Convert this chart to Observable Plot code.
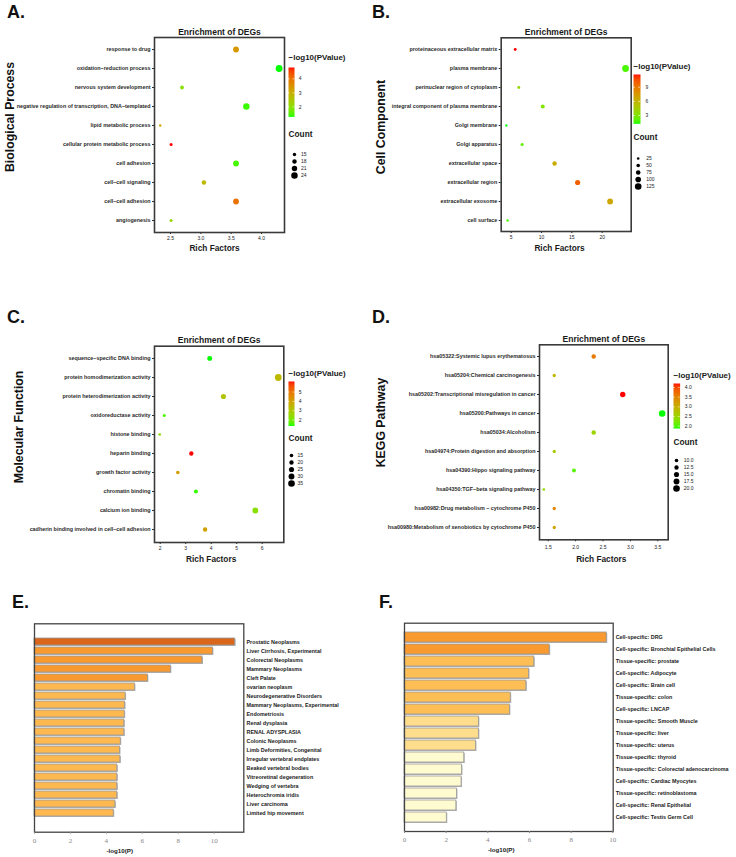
<!DOCTYPE html>
<html><head><meta charset="utf-8">
<script src="https://cdn.jsdelivr.net/npm/d3@7"></script>
<script src="https://cdn.jsdelivr.net/npm/@observablehq/plot@0.6"></script>
<style>
html,body{margin:0;padding:0;background:#fff;}
#root{position:relative;width:736px;height:857px;overflow:hidden;background:#fff;font-family:"Liberation Sans",Arial,sans-serif;}
</style></head><body><div id="root"></div>
<script>
// ---------------- DATA ----------------
const bpTerms = ["response to drug","oxidation−reduction process","nervous system development","negative regulation of transcription, DNA−templated","lipid metabolic process","cellular protein metabolic process","cell adhesion","cell−cell signaling","cell−cell adhesion","angiogenesis"];
const bpRich  = [3.58, 4.29, 2.69, 3.75, 2.33, 2.51, 3.58, 3.05, 3.58, 2.51];
const bpCount = [22, 25, 16, 24, 12, 14, 22, 18, 22, 14];
const bpLogP  = [3.4, 1.29, 2.0, 1.4, 3.1, 4.81, 1.45, 2.8, 4.0, 2.2];
const bpSizeBreaks = [15, 18, 21, 24];
const bpColorTicks = [2, 3, 4];

const ccTerms = ["proteinaceous extracellular matrix","plasma membrane","perinuclear region of cytoplasm","integral component of plasma membrane","Golgi membrane","Golgi apparatus","extracellular space","extracellular region","extracellular exosome","cell surface"];
const ccRich  = [5.66, 23.85, 6.25, 10.2, 4.2, 6.8, 12.15, 15.95, 21.3, 4.4];
const ccCount = [32, 130, 32, 60, 18, 40, 70, 90, 105, 20];
const ccLogP  = [11.7, 1.8, 3.8, 3.0, 1.25, 2.2, 6.5, 10.0, 6.8, 1.8];
const ccSizeBreaks = [25, 50, 75, 100, 125];
const ccColorTicks = [3, 6, 9];

const mfTerms = ["sequence−specific DNA binding","protein homodimerization activity","protein heterodimerization activity","oxidoreductase activity","histone binding","heparin binding","growth factor activity","chromatin binding","calcium ion binding","cadherin binding involved in cell−cell adhesion"];
const mfRich  = [3.94, 6.63, 4.48, 2.16, 1.98, 3.22, 2.69, 3.4, 5.73, 3.76];
const mfCount = [24, 36, 25, 11, 9, 20, 15, 18, 30, 20];
const mfLogP  = [1.36, 3.4, 3.1, 1.6, 2.4, 6.13, 4.1, 1.5, 2.3, 4.0];
const mfSizeBreaks = [15, 20, 25, 30, 35];
const mfColorTicks = [2, 3, 4, 5];

const keggTerms = ["hsa05322:Systemic lupus erythematosus","hsa05204:Chemical carcinogenesis","hsa05202:Transcriptional misregulation in cancer","hsa05200:Pathways in cancer","hsa05034:Alcoholism","hsa04974:Protein digestion and absorption","hsa04390:Hippo signaling pathway","hsa04350:TGF−beta signaling pathway","hsa00982:Drug metabolism − cytochrome P450","hsa00980:Metabolism of xenobiotics by cytochrome P450"];
const keggRich  = [2.33, 1.61, 2.86, 3.58, 2.33, 1.61, 1.97, 1.42, 1.61, 1.61];
const keggCount = [13, 9, 16, 20, 13, 9, 11, 7, 9, 9];
const keggLogP  = [3.6, 2.9, 4.21, 1.88, 2.5, 2.6, 2.05, 2.4, 3.5, 3.15];
const keggSizeBreaks = [10, 12.5, 15, 17.5, 20];
const keggColorTicks = [2, 2.5, 3, 3.5, 4];

const diseaseTerms = ["Prostatic Neoplasms","Liver Cirrhosis, Experimental","Colorectal Neoplasms","Mammary Neoplasms","Cleft Palate","ovarian neoplasm","Neurodegenerative Disorders","Mammary Neoplasms, Experimental","Endometriosis","Renal dysplasia","RENAL ADYSPLASIA","Colonic Neoplasms","Limb Deformities, Congenital","Irregular vertebral endplates","Beaked vertebral bodies","Vitreoretinal degeneration","Wedging of vertebra","Heterochromia iridis","Liver carcinoma","Limited hip movement"];
const diseaseLogP = [11.17, 9.93, 9.35, 7.59, 6.31, 5.59, 5.07, 5.04, 5.02, 5.0, 5.0, 4.80, 4.76, 4.78, 4.61, 4.61, 4.61, 4.61, 4.5, 4.41];

const tissueTerms = ["Cell-specific: DRG","Cell-specific: Bronchial Epithelial Cells","Tissue-specific: prostate","Cell-specific: Adipocyte","Cell-specific: Brain cell","Tissue-specific: colon","Cell-specific: LNCAP","Tissue-specific: Smooth Muscle","Tissue-specific: liver","Tissue-specific: uterus","Tissue-specific: thyroid","Tissue-specific: Colorectal adenocarcinoma","Cell-specific: Cardiac Myocytes","Tissue-specific: retinoblastoma","Cell-specific: Renal Epithelial","Cell-specific: Testis Germ Cell"];
const tissueLogP = [9.71, 6.97, 6.23, 5.98, 5.85, 5.1, 5.06, 3.57, 3.57, 3.43, 2.87, 2.76, 2.74, 2.52, 2.49, 2.03];

const barTicks = [0, 2, 4, 6, 8, 10];
const panelLetters = ["A.", "B.", "C.", "D.", "E.", "F."];
const sideTitles = ["Biological Process", "Cell Component", "Molecular Function", "KEGG Pathway"];

// ---------------- HELPERS ----------------
const FONT = '"Liberation Sans", Arial, sans-serif';
const root = document.getElementById("root");
function place(el, left, top) {
  el.style.position = "absolute";
  el.style.left = left + "px";
  el.style.top = top + "px";
  el.style.overflow = "visible";
  el.style.background = "transparent";
  root.appendChild(el);
}
const gradient = {type: "linear", range: ["#00ff00", "#ff0000"], interpolate: d3.interpolateLab};

function dotPanel(p) {
  const rows = p.cats.map((cat, i) => ({cat, rich: p.rich[i], count: p.count[i], logp: p.logp[i]}));
  const svg = Plot.plot({
    width: p.w, height: p.h,
    marginLeft: p.m[0], marginRight: p.m[1], marginTop: p.m[2], marginBottom: p.m[3],
    style: {fontFamily: FONT, background: "transparent", overflow: "visible"},
    x: {domain: p.xDomain},
    y: {type: "point", domain: p.cats, padding: 0.58},
    r: {type: "linear", domain: p.rDomain, range: p.rRange},
    color: {...gradient, domain: p.cDomain},
    marks: [
      Plot.axisX(p.xTicks, {tickSize: 2, tickPadding: p.xPad, fontSize: 5, tickFormat: p.xFmt, label: null, color: "#222"}),
      Plot.axisY({tickSize: 2, tickPadding: 2, fontSize: 5.4, fontWeight: "bold", label: null, color: "#2a2a2a"}),
      Plot.dot(rows, {x: "rich", y: "cat", r: "count", fill: "logp"}),
      Plot.frame({stroke: "#3a3a3a", strokeWidth: 1.6}),
      Plot.text(["Enrichment of DEGs"], {text: d => d, frameAnchor: "top", lineAnchor: "middle", dy: p.titleDy, fontSize: 8.5, fontWeight: "bold", fill: "#1a1a1a"}),
      Plot.text(["Rich Factors"], {text: d => d, frameAnchor: "bottom", lineAnchor: "middle", dy: p.xlabDy, dx: p.xlabDx, fontSize: 8.3, fontWeight: "bold", fill: "#1a1a1a"})
    ]
  });
  place(svg, p.left, p.top);
}

function colorBar(p) {
  const mt = 16, W = 100;
  const svg = Plot.plot({
    width: W, height: p.barH + mt, marginTop: mt, marginBottom: 0, marginLeft: 0, marginRight: W - p.barW,
    style: {fontFamily: FONT, background: "transparent", overflow: "visible"},
    x: {domain: [0, 1], axis: null},
    y: {domain: p.cDomain, axis: null},
    color: {...gradient, domain: p.cDomain},
    marks: [
      Plot.raster({x1: 0, x2: 1, y1: p.cDomain[0], y2: p.cDomain[1], width: 1, height: 80, fill: (x, y) => y, imageRendering: "auto"}),
      Plot.tickY(p.ticks, {y: d => d, stroke: "white", strokeWidth: 0.6, insetRight: p.barW * 0.75}),
      Plot.tickY(p.ticks, {y: d => d, stroke: "white", strokeWidth: 0.6, insetLeft: p.barW * 0.75}),
      Plot.axisY(p.ticks, {anchor: "right", tickSize: 0, tickPadding: p.labPad, fontSize: 5, tickFormat: p.fmt, label: null, color: "#222"}),
      Plot.text(["−log10(PValue)"], {text: d => d, frameAnchor: "top-left", textAnchor: "start", lineAnchor: "middle", dy: -p.titleGap, fontSize: 8, fontWeight: "bold", fill: "#1a1a1a"})
    ]
  });
  place(svg, p.left, p.barTop - mt);
}

function sizeLegend(p) {
  const top = p.titleY - 8, W = 60;
  const svg = Plot.plot({
    width: W, height: p.itemBottom - top + 8, marginTop: 0, marginBottom: 0, marginLeft: 0, marginRight: 0,
    style: {fontFamily: FONT, background: "transparent", overflow: "visible"},
    x: {domain: [0, 1], range: [p.circleDx, W], axis: null},
    y: {type: "point", domain: p.breaks, range: [p.itemTop - top, p.itemBottom - top], axis: null},
    r: {type: "linear", domain: p.rDomain, range: p.rRange},
    marks: [
      Plot.dot(p.breaks, {x: () => 0, y: d => d, r: d => d, fill: "black"}),
      Plot.text(p.breaks, {x: () => 0, y: d => d, text: p.fmt, dx: p.labelDx, textAnchor: "start", fontSize: 5, fill: "#222"}),
      Plot.text(["Count"], {text: d => d, frameAnchor: "top-left", textAnchor: "start", lineAnchor: "middle", dy: 8, fontSize: 8.3, fontWeight: "bold", fill: "#1a1a1a"})
    ]
  });
  place(svg, p.left, top);
}

function barPanel(p) {
  const rows = p.cats.map((cat, i) => ({cat, v: p.vals[i]}));
  const svg = Plot.plot({
    width: p.w, height: p.h,
    marginLeft: p.m[0], marginRight: p.m[1], marginTop: p.m[2], marginBottom: p.m[3],
    style: {fontFamily: FONT, background: "transparent", overflow: "visible"},
    x: {domain: [0, p.xMax]},
    y: {type: "band", domain: p.cats, paddingInner: p.pi, paddingOuter: p.po},
    color: {type: "threshold", domain: p.thr, range: p.colors},
    marks: [
      Plot.barX(rows, {x: "v", y: "cat", fill: "#b4b4b4", dx: 1, dy: 1}),
      Plot.barX(rows, {x: "v", y: "cat", fill: "v", stroke: "#9a9a9a", strokeWidth: 0.8}),
      Plot.frame({stroke: "#444", strokeWidth: 1.3}),
      Plot.axisX(barTicks, {tickSize: 2, tickPadding: 4, fontSize: 7, fontFamily: '"Liberation Serif", "Times New Roman", serif', label: null, color: "#888"}),
      Plot.axisY({anchor: "right", tickSize: 0, tickPadding: p.labPad, fontSize: 5.4, fontWeight: "bold", label: null, color: "#1a1a1a"}),
      Plot.text(["-log10(P)"], {text: d => d, frameAnchor: "bottom", lineAnchor: "middle", dy: 19, dx: p.xlabDx, fontSize: 6.2, fontWeight: "bold", fill: "#1a1a1a"})
    ]
  });
  place(svg, p.left, p.top);
}

// ---------------- PANELS ----------------
const f1 = d3.format(".1f");
dotPanel({left: 0, top: 0, w: 370, h: 290, m: [154, 86, 37, 58], xDomain: [2.236, 4.379], xTicks: [2.5, 3, 3.5, 4], xFmt: f1, xPad: 2,
  cats: bpTerms, rich: bpRich, count: bpCount, logp: bpLogP, rDomain: [12, 25], rRange: [1.2, 3.4], cDomain: [1.29, 4.81],
  titleDy: -5, xlabDy: 16, xlabDx: -5});
colorBar({left: 288, barTop: 67.3, barH: 49.4, barW: 6, cDomain: [1.29, 4.81], ticks: bpColorTicks, fmt: d => d, labPad: 4.3, titleGap: 10});
sizeLegend({left: 288, titleY: 134, itemTop: 149, itemBottom: 180, breaks: bpSizeBreaks, rDomain: [12, 25], rRange: [1.2, 3.4], circleDx: 6, labelDx: 6.5, fmt: d => d});

dotPanel({left: 370, top: 0, w: 366, h: 290, m: [130.7, 105.3, 37.3, 59], xDomain: [3.35, 24.78], xTicks: [5, 10, 15, 20], xFmt: d => d, xPad: 2,
  cats: ccTerms, rich: ccRich, count: ccCount, logp: ccLogP, rDomain: [15, 135], rRange: [1.1, 3.5], cDomain: [1.25, 11.7],
  titleDy: -5.6, xlabDy: 17.3, xlabDx: -6.7});
colorBar({left: 633, barTop: 74, barH: 49.3, barW: 7, cDomain: [1.25, 11.7], ticks: ccColorTicks, fmt: d => d, labPad: 5, titleGap: 8.3});
sizeLegend({left: 633, titleY: 136.7, itemTop: 151.7, itemBottom: 191, breaks: ccSizeBreaks, rDomain: [15, 135], rRange: [1.1, 3.5], circleDx: 4.7, labelDx: 8, fmt: d => d});

dotPanel({left: 0, top: 300, w: 370, h: 290, m: [154, 86.7, 45.7, 48], xDomain: [1.776, 6.847], xTicks: [2, 3, 4, 5, 6], xFmt: d => d, xPad: 2,
  cats: mfTerms, rich: mfRich, count: mfCount, logp: mfLogP, rDomain: [8, 38], rRange: [1.28, 3.53], cDomain: [1.36, 6.13],
  titleDy: -6.4, xlabDy: 17.3, xlabDx: -8});
colorBar({left: 288, barTop: 380.5, barH: 44.5, barW: 6, cDomain: [1.36, 6.13], ticks: mfColorTicks, fmt: d => d, labPad: 4.3, titleGap: 8});
sizeLegend({left: 288, titleY: 437.7, itemTop: 450.7, itemBottom: 486.7, breaks: mfSizeBreaks, rDomain: [8, 38], rRange: [1.28, 3.53], circleDx: 3, labelDx: 6, fmt: d => d});

dotPanel({left: 370, top: 300, w: 366, h: 290, m: [169, 68.3, 44.3, 50.7], xDomain: [1.341, 3.69], xTicks: [1.5, 2, 2.5, 3, 3.5], xFmt: f1, xPad: 4,
  cats: keggTerms, rich: keggRich, count: keggCount, logp: keggLogP, rDomain: [6, 21], rRange: [1.2, 3.45], cDomain: [1.88, 4.21],
  titleDy: -6, xlabDy: 20, xlabDx: -2.6});
colorBar({left: 672.7, barTop: 383.3, barH: 45, barW: 6.6, cDomain: [1.88, 4.21], ticks: keggColorTicks, fmt: f1, labPad: 4.7, titleGap: 8.3});
sizeLegend({left: 672.7, titleY: 442.3, itemTop: 455.2, itemBottom: 492.5, breaks: keggSizeBreaks, rDomain: [6, 21], rRange: [1.2, 3.45], circleDx: 3, labelDx: 7.3, fmt: f1});

barPanel({left: 0, top: 600, w: 370, h: 257, m: [34, 126.7, 23.3, 25.3], xMax: 11.65, cats: diseaseTerms, vals: diseaseLogP,
  pi: 0.2, po: 0.54, thr: [6, 10], colors: ["#FDB94F", "#F89A30", "#D9661A"], labPad: 2.7, xlabDx: -19.4});
barPanel({left: 370, top: 600, w: 366, h: 257, m: [34, 123.3, 22.7, 26], xMax: 10.02, cats: tissueTerms, vals: tissueLogP,
  pi: 0.19, po: 0.57, thr: [3, 4, 6.5], colors: ["#FFFBD0", "#FEDD8C", "#FDBF55", "#F89A30"], labPad: 2.5, xlabDx: -7.6});

// ---------------- PANEL LETTERS & SIDE TITLES ----------------
const ov = d3.create("svg").attr("width", 736).attr("height", 857)
  .style("position", "absolute").style("left", "0px").style("top", "0px").style("pointer-events", "none")
  .style("font-family", FONT);
const letterPos = [[7, 18], [372, 18], [7, 323], [372, 323], [12, 608], [379, 608]];
panelLetters.forEach((t, i) => {
  ov.append("text").attr("x", letterPos[i][0]).attr("y", letterPos[i][1])
    .attr("font-size", 18).attr("font-weight", "bold").attr("fill", "#111").text(t);
});
const sidePos = [[9.5, 117], [381, 127], [19, 427], [381, 422.5]];
sideTitles.forEach((t, i) => {
  ov.append("text").attr("transform", `translate(${sidePos[i][0]},${sidePos[i][1]}) rotate(-90)`)
    .attr("text-anchor", "middle").attr("dominant-baseline", "central")
    .attr("font-size", 12.3).attr("font-weight", "bold").attr("fill", "#111").text(t);
});
root.appendChild(ov.node());
</script></body></html>
